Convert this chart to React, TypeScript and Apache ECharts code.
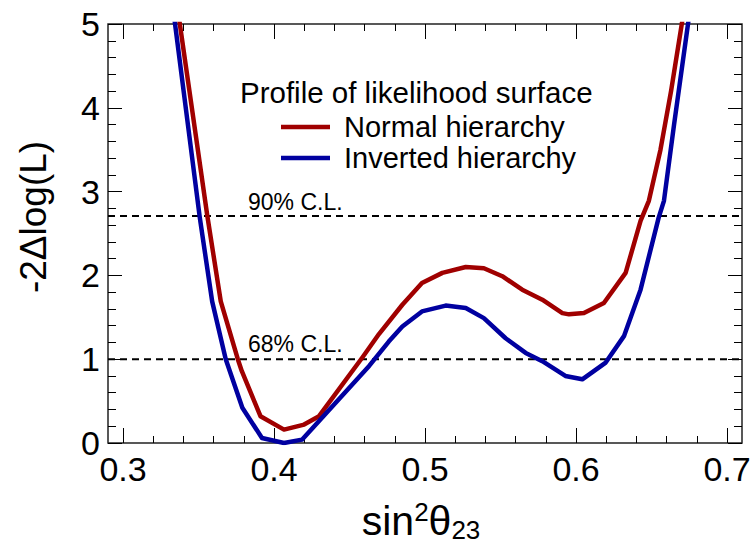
import React, { useEffect, useRef } from "react";
import * as echarts from "echarts";

// Profile likelihood scan in sin^2(theta23): [sin^2 theta23, -2 delta log L]
const normalHierarchy: [number, number][] = [
  [0.336, 5.2], [0.3558, 2.71], [0.3647, 1.69], [0.376, 1.0], [0.3786, 0.86],
  [0.391, 0.32], [0.4066, 0.16], [0.4199, 0.22], [0.4298, 0.32], [0.4585, 1.02],
  [0.4695, 1.3], [0.485, 1.65], [0.498, 1.91], [0.5115, 2.03], [0.527, 2.1],
  [0.539, 2.085], [0.5512, 1.99], [0.5644, 1.83], [0.5777, 1.71], [0.591, 1.55],
  [0.5954, 1.535], [0.6053, 1.55], [0.6185, 1.67], [0.6329, 2.03], [0.6428, 2.65],
  [0.6483, 2.89], [0.656, 3.5], [0.663, 4.2], [0.671, 5.1],
];

const invertedHierarchy: [number, number][] = [
  [0.333, 5.2], [0.3508, 2.69], [0.359, 1.69], [0.368, 1.0], [0.379, 0.42],
  [0.392, 0.06], [0.4066, 0.0], [0.4185, 0.04], [0.463, 0.92], [0.476, 1.21],
  [0.485, 1.39], [0.498, 1.57], [0.5137, 1.64], [0.527, 1.61], [0.539, 1.49],
  [0.5534, 1.25], [0.5667, 1.075], [0.5777, 0.976], [0.593, 0.8], [0.6042, 0.76],
  [0.6197, 0.96], [0.6318, 1.275], [0.6428, 1.83], [0.6548, 2.69], [0.6583, 2.89],
  [0.665, 3.8], [0.675, 5.1],
];

// Confidence-level thresholds
const clLevels = [2.71, 1.0];
const clLabels = ["90% C.L.", "68% C.L."];

// Axis ranges
const frameRange: [number, number] = [0.29, 0.71];
const tickRange: [number, number] = [0.3, 0.7];
const yRange: [number, number] = [0, 5];

const FONT = "'Liberation Sans', Arial, Helvetica, sans-serif";
const RED = "#a00000";
const BLUE = "#0000a0";

export default function App() {
  const ref = useRef<HTMLDivElement>(null);

  useEffect(() => {
    if (!ref.current) return;
    const chart = echarts.init(ref.current, undefined, { renderer: "svg" });

    const tickAxisBase = {
      type: "value" as const,
      min: tickRange[0],
      max: tickRange[1],
      interval: 0.1,
      gridIndex: 1,
      axisLine: { show: false },
      axisTick: { show: true, inside: true, length: 15, lineStyle: { color: "#000", width: 1 } },
      minorTick: { show: true, splitNumber: 5, length: 7, lineStyle: { color: "#000", width: 1 } },
      splitLine: { show: false },
      minorSplitLine: { show: false },
    };

    const yAxisBase = {
      type: "value" as const,
      min: yRange[0],
      max: yRange[1],
      interval: 1,
      gridIndex: 0,
      axisLine: { show: false },
      axisTick: { show: true, inside: true, length: 14, lineStyle: { color: "#000", width: 1 } },
      minorTick: { show: true, splitNumber: 5, length: 8, lineStyle: { color: "#000", width: 1 } },
      splitLine: { show: false },
      minorSplitLine: { show: false },
    };

    const clSeries = clLevels.map((lv) => ({
      type: "line" as const,
      xAxisIndex: 0,
      yAxisIndex: 0,
      data: [[frameRange[0], lv], [frameRange[1], lv]],
      symbol: "none",
      silent: true,
      lineStyle: { color: "#000", width: 2, type: [7, 5] },
    }));

    const curve = (data: [number, number][], color: string) => ({
      type: "line" as const,
      xAxisIndex: 0,
      yAxisIndex: 0,
      data,
      symbol: "none",
      clip: true,
      lineStyle: { color, width: 4.5, join: "round" as const },
    });

    chart.setOption({
      animation: false,
      backgroundColor: "#fff",
      grid: [
        {
          left: 108, right: 12, top: 24, bottom: 109,
          show: true, borderColor: "#222", borderWidth: 1.5, backgroundColor: "transparent",
        },
        { left: 123, right: 27, top: 24, bottom: 109 },
      ],
      xAxis: [
        {
          type: "value", gridIndex: 0, min: frameRange[0], max: frameRange[1],
          axisLine: { show: false }, axisTick: { show: false }, axisLabel: { show: false },
          splitLine: { show: false },
        },
        {
          ...tickAxisBase,
          position: "bottom",
          axisLabel: {
            show: true, fontSize: 34, fontFamily: FONT, color: "#000", margin: 9,
            formatter: (v: number) => v.toFixed(1),
          },
        },
        { ...tickAxisBase, position: "top", axisLabel: { show: false } },
      ],
      yAxis: [
        {
          ...yAxisBase,
          position: "left",
          axisLabel: { show: true, fontSize: 34, fontFamily: FONT, color: "#000", margin: 8 },
        },
        { ...yAxisBase, position: "right", axisLabel: { show: false } },
        {
          type: "value", gridIndex: 1, min: yRange[0], max: yRange[1],
          axisLine: { show: false }, axisTick: { show: false }, axisLabel: { show: false },
          splitLine: { show: false },
        },
      ],
      series: [
        ...clSeries,
        curve(normalHierarchy, RED),
        curve(invertedHierarchy, BLUE),
      ],
      graphic: [
        {
          type: "text", left: 248, top: 190,
          style: { text: clLabels[0], fontSize: 23, fontFamily: FONT, fill: "#000" },
        },
        {
          type: "text", left: 248, top: 332,
          style: { text: clLabels[1], fontSize: 23, fontFamily: FONT, fill: "#000" },
        },
        {
          type: "text", x: 240, y: 92,
          style: {
            text: "Profile of likelihood surface", fontSize: 29.5, fontFamily: FONT, fill: "#000",
            align: "left", verticalAlign: "middle",
          },
        },
        { type: "line", shape: { x1: 281, y1: 127, x2: 330, y2: 127 }, style: { stroke: RED, lineWidth: 4.5 } },
        {
          type: "text", x: 344, y: 127,
          style: {
            text: "Normal hierarchy", fontSize: 29, fontFamily: FONT, fill: "#000",
            align: "left", verticalAlign: "middle",
          },
        },
        { type: "line", shape: { x1: 281, y1: 158, x2: 330, y2: 158 }, style: { stroke: BLUE, lineWidth: 4.5 } },
        {
          type: "text", x: 344, y: 158,
          style: {
            text: "Inverted hierarchy", fontSize: 29, fontFamily: FONT, fill: "#000",
            align: "left", verticalAlign: "middle",
          },
        },
        {
          type: "text", x: 33, y: 217, rotation: Math.PI / 2,
          style: {
            text: "-2\u0394log(L)", fontSize: 37, fontFamily: FONT, fill: "#000",
            align: "center", verticalAlign: "middle",
          },
        },
        {
          type: "text", x: 421, y: 521,
          style: {
            text: "{m|sin}{sup|2}{m|\u03b8}{sub|23}",
            align: "center", verticalAlign: "middle",
            rich: {
              m: { fontSize: 41, fontFamily: FONT, fill: "#000", lineHeight: 44, verticalAlign: "middle" },
              sup: { fontSize: 26, fontFamily: FONT, fill: "#000", lineHeight: 26, verticalAlign: "top" },
              sub: { fontSize: 26, fontFamily: FONT, fill: "#000", lineHeight: 26, verticalAlign: "bottom" },
            },
          },
        },
      ],
    });

    return () => chart.dispose();
  }, []);

  return (
    <div
      ref={ref}
      style={{ position: "fixed", left: 0, top: 0, width: 754, height: 552, background: "#fff" }}
    />
  );
}
